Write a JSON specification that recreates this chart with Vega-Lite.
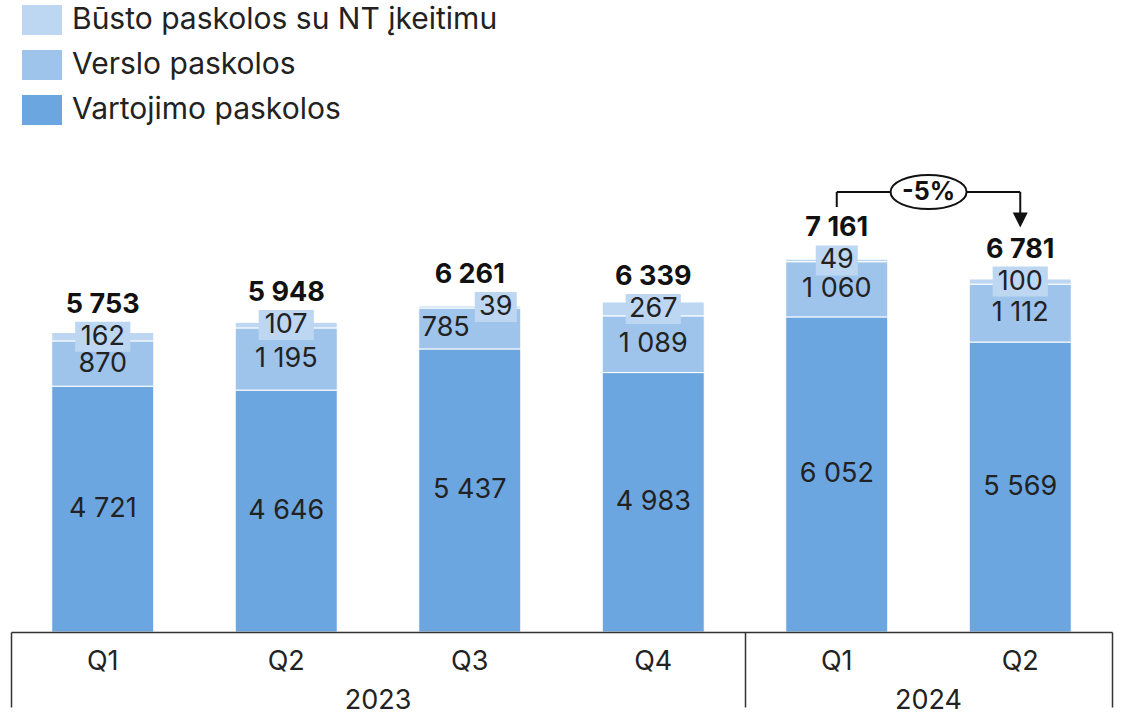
{
  "$schema": "https://vega.github.io/schema/vega-lite/v6.json",
  "width": 1101,
  "height": 492,
  "autosize": {"type": "none"},
  "padding": {"left": 11, "top": 140, "right": 10, "bottom": 82},
  "config": {
    "view": {"stroke": null},
    "font": "Inter",
    "locale": {"number": {"decimal": ",", "thousands": " ", "grouping": [3], "currency": ["", ""]}}
  },
  "data": {"values": [
    {"q": "2023 Q1", "s": "Vartojimo paskolos", "v": 4721},
    {"q": "2023 Q1", "s": "Verslo paskolos", "v": 870},
    {"q": "2023 Q1", "s": "Būsto paskolos su NT įkeitimu", "v": 162},
    {"q": "2023 Q2", "s": "Vartojimo paskolos", "v": 4646},
    {"q": "2023 Q2", "s": "Verslo paskolos", "v": 1195},
    {"q": "2023 Q2", "s": "Būsto paskolos su NT įkeitimu", "v": 107},
    {"q": "2023 Q3", "s": "Vartojimo paskolos", "v": 5437},
    {"q": "2023 Q3", "s": "Verslo paskolos", "v": 785},
    {"q": "2023 Q3", "s": "Būsto paskolos su NT įkeitimu", "v": 39},
    {"q": "2023 Q4", "s": "Vartojimo paskolos", "v": 4983},
    {"q": "2023 Q4", "s": "Verslo paskolos", "v": 1089},
    {"q": "2023 Q4", "s": "Būsto paskolos su NT įkeitimu", "v": 267},
    {"q": "2024 Q1", "s": "Vartojimo paskolos", "v": 6052},
    {"q": "2024 Q1", "s": "Verslo paskolos", "v": 1060},
    {"q": "2024 Q1", "s": "Būsto paskolos su NT įkeitimu", "v": 49},
    {"q": "2024 Q2", "s": "Vartojimo paskolos", "v": 5569},
    {"q": "2024 Q2", "s": "Verslo paskolos", "v": 1112},
    {"q": "2024 Q2", "s": "Būsto paskolos su NT įkeitimu", "v": 100}
  ]},
  "transform": [
    {"calculate": "indexof(['Vartojimo paskolos','Verslo paskolos','Būsto paskolos su NT įkeitimu'], datum.s)", "as": "k"},
    {"stack": "v", "groupby": ["q"], "sort": [{"field": "k", "order": "ascending"}], "as": ["v0", "v1"]},
    {"calculate": "(datum.v0 + datum.v1) / 2", "as": "mid"},
    {"joinaggregate": [{"op": "sum", "field": "v", "as": "total"}], "groupby": ["q"]}
  ],
  "resolve": {"axis": {"x": "independent"}},
  "layer": [
    {
      "mark": {"type": "bar", "stroke": "white", "strokeWidth": 1},
      "encoding": {
        "x": {
          "field": "q", "type": "nominal",
          "scale": {"domain": ["2023 Q1", "2023 Q2", "2023 Q3", "2023 Q4", "2024 Q1", "2024 Q2"], "paddingInner": 0.444, "paddingOuter": 0.222},
          "axis": {
            "title": null, "orient": "bottom", "zindex": 1, "grid": false,
            "domain": true, "domainColor": "#333333", "domainWidth": 1.5,
            "ticks": false, "labelAngle": 0, "labelOverlap": false,
            "labelExpr": "split(datum.value, ' ')[1]",
            "labelFont": "Inter", "labelFontSize": 27, "labelColor": "#222222", "labelPadding": 16, "labelBaseline": "top"
          }
        },
        "y": {"field": "v0", "type": "quantitative", "scale": {"domain": [0, 9450], "nice": false}, "axis": null},
        "y2": {"field": "v1"},
        "color": {
          "field": "s", "type": "nominal",
          "scale": {"domain": ["Būsto paskolos su NT įkeitimu", "Verslo paskolos", "Vartojimo paskolos"], "range": ["#BDD7F2", "#9EC4EC", "#6CA6E0"]},
          "legend": {
            "title": null, "orient": "none", "legendX": 11, "legendY": -140, "padding": 0,
            "symbolType": "M-1,-0.75H1V0.75H-1Z", "symbolSize": 1600, "symbolStrokeWidth": 0, "symbolOpacity": 1,
            "labelFont": "Inter", "labelFontSize": 30, "labelColor": "#222222", "labelOffset": 10, "labelLimit": 700,
            "rowPadding": 10
          }
        }
      }
    },
    {
      "transform": [{"filter": "datum.k == 2"}],
      "mark": {"type": "point", "filled": true, "color": "#BDD7F2", "opacity": 1, "size": 3600, "xOffset": {"expr": "datum.q == '2023 Q3' ? 26 : 0"}},
      "encoding": {
        "x": {
          "field": "q", "type": "nominal",
          "axis": {
            "title": null, "orient": "bottom", "grid": false, "domain": false, "labels": false,
            "ticks": true, "values": ["2024 Q2"], "bandPosition": 1, "tickOffset": 40.5,
            "tickSize": 75, "tickWidth": 1.5, "tickColor": "#333333"
          }
        },
        "y": {"field": "mid", "type": "quantitative", "axis": null},
        "shape": {"condition": {"test": "datum.v < 100", "value": "M-0.7,-0.5H0.7V0.5H-0.7Z"}, "value": "M-0.92,-0.5H0.92V0.5H-0.92Z"}
      }
    },
    {
      "mark": {"type": "text", "fontSize": 27, "color": "#222222", "baseline": "middle", "dx": {"expr": "datum.q == '2023 Q3' ? (datum.k == 2 ? 26 : (datum.k == 1 ? -24 : 0)) : 0"}},
      "encoding": {
        "x": {
          "field": "q", "type": "nominal",
          "axis": {
            "title": null, "orient": "bottom", "grid": false, "domain": false, "ticks": false, "labelAngle": 0, "labelOverlap": false,
            "labelExpr": "datum.value == '2023 Q2' ? '2023' : (datum.value == '2024 Q1' ? '2024' : '')",
            "labelOffset": 91.75, "labelFont": "Inter", "labelFontSize": 27, "labelColor": "#222222", "labelPadding": 55, "labelBaseline": "top"
          }
        },
        "y": {"field": "mid", "type": "quantitative", "axis": null},
        "text": {"field": "v", "type": "quantitative", "format": ",d"}
      }
    },
    {
      "transform": [{"filter": "datum.k == 2"}],
      "mark": {"type": "text", "fontSize": 27, "fontWeight": "bold", "color": "#111111", "baseline": "middle", "dy": -32},
      "encoding": {
        "x": {
          "field": "q", "type": "nominal",
          "axis": {
            "title": null, "orient": "bottom", "grid": false, "domain": false, "labels": false,
            "ticks": true, "values": ["2023 Q1", "2024 Q1"], "bandPosition": 0, "tickOffset": -40.5,
            "tickSize": 75, "tickWidth": 1.5, "tickColor": "#333333"
          }
        },
        "y": {"field": "mid", "type": "quantitative", "axis": null},
        "text": {"field": "total", "type": "quantitative", "format": ",d"}
      }
    },
    {
      "data": {"values": [{}]},
      "mark": {"type": "rule", "strokeWidth": 2, "color": "#111111"},
      "encoding": {
        "x": {"datum": "2024 Q1", "type": "nominal", "axis": null},
        "x2": {"datum": "2024 Q2"},
        "y": {"datum": 8451, "type": "quantitative", "axis": null}
      }
    },
    {
      "data": {"values": [{}]},
      "mark": {"type": "rule", "strokeWidth": 2, "color": "#111111"},
      "encoding": {
        "x": {"datum": "2024 Q1", "type": "nominal", "axis": null},
        "y": {"datum": 8451, "type": "quantitative", "axis": null},
        "y2": {"datum": 8163}
      }
    },
    {
      "data": {"values": [{}]},
      "mark": {"type": "rule", "strokeWidth": 2, "color": "#111111"},
      "encoding": {
        "x": {"datum": "2024 Q2", "type": "nominal", "axis": null},
        "y": {"datum": 8451, "type": "quantitative", "axis": null},
        "y2": {"datum": 7914}
      }
    },
    {
      "data": {"values": [{}]},
      "mark": {"type": "point", "filled": true, "color": "#111111", "opacity": 1, "size": 225, "shape": "M-1,-1H1L0,1Z"},
      "encoding": {
        "x": {"datum": "2024 Q2", "type": "nominal", "axis": null},
        "y": {"datum": 7914, "type": "quantitative", "axis": null}
      }
    },
    {
      "data": {"values": [{}]},
      "mark": {"type": "point", "filled": true, "fill": "white", "stroke": "#111111", "strokeWidth": 2, "opacity": 1, "size": 5776, "shape": "M-1,0A1,0.45 0 1,1 1,0A1,0.45 0 1,1 -1,0Z"},
      "encoding": {
        "x": {"datum": "2024 Q1", "type": "nominal", "bandPosition": 1.4, "axis": null},
        "y": {"datum": 8451, "type": "quantitative", "axis": null}
      }
    },
    {
      "data": {"values": [{"t": "-5%"}]},
      "mark": {"type": "text", "fontSize": 25, "fontWeight": "bold", "color": "#111111", "baseline": "middle"},
      "encoding": {
        "x": {"datum": "2024 Q1", "type": "nominal", "bandPosition": 1.4, "axis": null},
        "y": {"datum": 8451, "type": "quantitative", "axis": null},
        "text": {"field": "t"}
      }
    }
  ]
}
